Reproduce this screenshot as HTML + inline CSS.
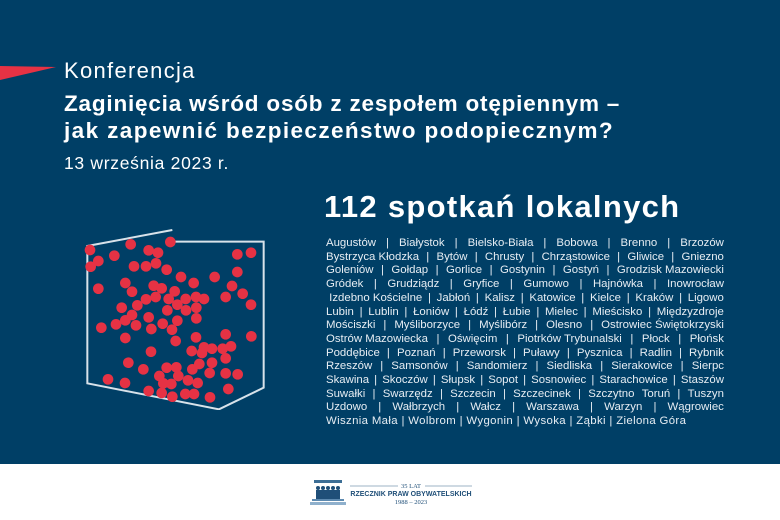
<!DOCTYPE html>
<html><head><meta charset="utf-8"><style>
body{margin:0;width:780px;height:520px;overflow:hidden;background:#fff;font-family:"Liberation Sans","DejaVu Sans",sans-serif}
#main{position:absolute;left:0;top:0;width:780px;height:464px;background:#003f66;color:#fff}
.t{position:absolute;white-space:nowrap}
.cities{position:absolute;left:326px;top:237px;width:398px;font-size:11.4px;line-height:13.7px;color:#e6edf3}
.cities div{white-space:nowrap;display:flex;justify-content:space-between}
</style></head><body>
<div id="main">
<svg style="position:absolute;left:0;top:0" width="80" height="90"><polygon points="0,66 56,67 0,80" fill="#e63244"/></svg>
<div class="t" style="left:64px;top:58px;font-size:22px;letter-spacing:1.3px">Konferencja</div>
<div class="t" style="left:64px;top:90px;font-size:22.5px;font-weight:bold;line-height:27px;letter-spacing:0.8px">Zaginięcia wśród osób z zespołem otępiennym –</div>
<div class="t" style="left:64px;top:117px;font-size:22.5px;font-weight:bold;line-height:27px;letter-spacing:1.4px">jak zapewnić bezpieczeństwo podopiecznym?</div>
<div class="t" style="left:64px;top:153px;font-size:17.5px;letter-spacing:0.7px">13 września 2023 r.</div>
<div class="t" style="left:324px;top:189px;font-size:31px;font-weight:bold;letter-spacing:1.3px">112 spotkań lokalnych</div>
<svg style="position:absolute;left:60px;top:220px" width="220" height="190" viewBox="0 0 660 570">
<g fill="none" stroke="#d8e2ea" stroke-width="6">
<polyline points="337,30 82,78 82,490 477,568 611,503 611,65 345,65"/>
</g>
<g fill="#e63244" id="d"></g>
</svg>
<div class="cities">
<div><span>Augustów</span><span>|</span><span>Białystok</span><span>|</span><span>Bielsko-Biała</span><span>|</span><span>Bobowa</span><span>|</span><span>Brenno</span><span>|</span><span>Brzozów</span></div>
<div><span>Bystrzyca Kłodzka</span><span>|</span><span>Bytów</span><span>|</span><span>Chrusty</span><span>|</span><span>Chrząstowice</span><span>|</span><span>Gliwice</span><span>|</span><span>Gniezno</span></div>
<div><span>Goleniów</span><span>|</span><span>Gołdap</span><span>|</span><span>Gorlice</span><span>|</span><span>Gostynin</span><span>|</span><span>Gostyń</span><span>|</span><span>Grodzisk Mazowiecki</span></div>
<div><span>Gródek</span><span>|</span><span>Grudziądz</span><span>|</span><span>Gryfice</span><span>|</span><span>Gumowo</span><span>|</span><span>Hajnówka</span><span>|</span><span>Inowrocław</span></div>
<div><span>&nbsp;Izdebno Kościelne</span><span>|</span><span>Jabłoń</span><span>|</span><span>Kalisz</span><span>|</span><span>Katowice</span><span>|</span><span>Kielce</span><span>|</span><span>Kraków</span><span>|</span><span>Ligowo</span></div>
<div><span>Lubin</span><span>|</span><span>Lublin</span><span>|</span><span>Łoniów</span><span>|</span><span>Łódź</span><span>|</span><span>Łubie</span><span>|</span><span>Mielec</span><span>|</span><span>Mieścisko</span><span>|</span><span>Międzyzdroje</span></div>
<div><span>Mościszki</span><span>|</span><span>Myśliborzyce</span><span>|</span><span>Myślibórz</span><span>|</span><span>Olesno</span><span>|</span><span>Ostrowiec Świętokrzyski</span></div>
<div><span>Ostrów Mazowiecka</span><span>|</span><span>Oświęcim</span><span>|</span><span>Piotrków Trybunalski</span><span>|</span><span>Płock</span><span>|</span><span>Płońsk</span></div>
<div><span>Poddębice</span><span>|</span><span>Poznań</span><span>|</span><span>Przeworsk</span><span>|</span><span>Puławy</span><span>|</span><span>Pysznica</span><span>|</span><span>Radlin</span><span>|</span><span>Rybnik</span></div>
<div><span>Rzeszów</span><span>|</span><span>Samsonów</span><span>|</span><span>Sandomierz</span><span>|</span><span>Siedliska</span><span>|</span><span>Sierakowice</span><span>|</span><span>Sierpc</span></div>
<div><span>Skawina</span><span>|</span><span>Skoczów</span><span>|</span><span>Słupsk</span><span>|</span><span>Sopot</span><span>|</span><span>Sosnowiec</span><span>|</span><span>Starachowice</span><span>|</span><span>Staszów</span></div>
<div><span>Suwałki</span><span>|</span><span>Swarzędz</span><span>|</span><span>Szczecin</span><span>|</span><span>Szczecinek</span><span>|</span><span>Szczytno</span><span>Toruń</span><span>|</span><span>Tuszyn</span></div>
<div><span>Uzdowo</span><span>|</span><span>Wałbrzych</span><span>|</span><span>Wałcz</span><span>|</span><span>Warszawa</span><span>|</span><span>Warzyn</span><span>|</span><span>Wągrowiec</span></div>
<div style="display:block;letter-spacing:0.35px">Wisznia Mała | Wolbrom | Wygonin | Wysoka | Ząbki | Zielona Góra</div>
</div>
</div>
<svg style="position:absolute;left:310px;top:478px" width="170" height="30">
<rect x="4" y="2" width="28" height="3" fill="#3d6e95"/>
<g fill="#1f4f78"><circle cx="8" cy="10" r="2"/><circle cx="13" cy="10" r="2"/><circle cx="18" cy="10" r="2"/><circle cx="23" cy="10" r="2"/><circle cx="28" cy="10" r="2"/>
<rect x="6" y="12" width="24" height="9"/></g>
<rect x="2" y="21" width="32" height="2" fill="#5d8ab0"/><rect x="0" y="24" width="36" height="3" fill="#8fb0cc"/>
<line x1="40" y1="8" x2="88" y2="8" stroke="#7d9ab3" stroke-width="0.7"/><line x1="115" y1="8" x2="162" y2="8" stroke="#7d9ab3" stroke-width="0.7"/>
<text x="101" y="10" font-size="6.5" text-anchor="middle" fill="#1f4f78" font-family="Liberation Serif">35 LAT</text>
<text x="101" y="18" font-size="7" font-weight="bold" text-anchor="middle" fill="#1f4f78">RZECZNIK PRAW OBYWATELSKICH</text>
<text x="101" y="26" font-size="6.5" text-anchor="middle" fill="#1f4f78" font-family="Liberation Serif">1988 – 2023</text>
</svg>
<script>
var p=[90,90,115,123,92,140,163,107,212,73,266,91,294,98,331,66,222,139,258,139,288,130,320,149,532,103,573,98,532,156,464,171,363,171,401,189,115,206,196,189,216,215,281,197,305,205,344,214,516,198,548,221,497,231,573,254,258,238,287,231,326,237,352,254,377,237,408,231,432,237,232,256,185,263,322,271,378,271,409,263,216,285,196,301,168,313,228,316,266,292,352,302,409,295,124,323,274,327,308,311,336,329,196,354,347,363,408,352,497,343,574,349,273,395,395,393,426,399,432,382,456,386,488,386,513,379,497,415,205,428,250,448,320,443,349,442,397,448,418,432,456,428,144,478,195,489,298,468,355,468,310,490,334,492,384,481,413,489,449,459,497,460,533,463,266,513,305,519,337,530,376,522,402,522,450,532,505,507];
var g=document.getElementById('d'),s='';
for(var i=0;i<p.length;i+=2)s+='<circle cx="'+p[i]+'" cy="'+p[i+1]+'" r="16"/>';
g.innerHTML=s;
</script>
</body></html>
